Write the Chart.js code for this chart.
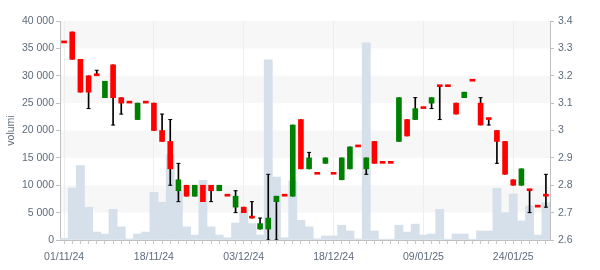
<!DOCTYPE html>
<html>
<head>
<meta charset="utf-8">
<script src="https://cdn.jsdelivr.net/npm/chart.js@4.4.1/dist/chart.umd.min.js"></script>
<style>
  html, body { margin: 0; padding: 0; background: #fff; }
  #box { width: 600px; height: 270px; position: relative; }
</style>
</head>
<body>
<div id="box"><canvas id="chart"></canvas></div>
<script>
// trading days
const dates = [
  "01/11/24", "04/11/24", "05/11/24", "06/11/24", "07/11/24", "08/11/24", "11/11/24", "12/11/24", "13/11/24", "14/11/24",
  "15/11/24", "18/11/24", "19/11/24", "20/11/24", "21/11/24", "22/11/24", "25/11/24", "26/11/24", "27/11/24", "28/11/24",
  "29/11/24", "02/12/24", "03/12/24", "04/12/24", "05/12/24", "06/12/24", "09/12/24", "10/12/24", "11/12/24", "12/12/24",
  "13/12/24", "16/12/24", "17/12/24", "18/12/24", "19/12/24", "20/12/24", "23/12/24", "27/12/24", "30/12/24", "02/01/25",
  "03/01/25", "06/01/25", "07/01/25", "08/01/25", "09/01/25", "10/01/25", "13/01/25", "14/01/25", "15/01/25", "16/01/25",
  "17/01/25", "20/01/25", "21/01/25", "22/01/25", "23/01/25", "24/01/25", "27/01/25", "28/01/25", "29/01/25", "30/01/25"
];

const openP = [
  3.32, 3.36, 3.26, 3.20, 3.20, 3.12, 3.24, 3.12, 3.10, 3.04,
  3.10, 3.10, 3.00, 2.96, 2.78, 2.80, 2.76, 2.80, 2.80, 2.78,
  2.76, 2.72, 2.72, 2.68, 2.64, 2.64, 2.74, 2.76, 2.76, 3.04,
  2.86, 2.84, 2.88, 2.84, 2.82, 2.86, 2.94, 2.86, 2.96, 2.88,
  2.88, 2.96, 3.04, 3.04, 3.08, 3.10, 3.16, 3.16, 3.10, 3.12,
  3.18, 3.10, 3.04, 3.00, 2.96, 2.82, 2.80, 2.78, 2.72, 2.76
];
const highP = [
  3.32, 3.36, 3.26, 3.20, 3.22, 3.18, 3.24, 3.12, 3.10, 3.10,
  3.10, 3.10, 3.06, 3.04, 2.88, 2.80, 2.80, 2.80, 2.80, 2.80,
  2.76, 2.78, 2.72, 2.74, 2.68, 2.84, 2.76, 2.76, 3.02, 3.04,
  2.92, 2.84, 2.90, 2.84, 2.90, 2.94, 2.94, 2.90, 2.96, 2.88,
  2.88, 3.12, 3.04, 3.12, 3.08, 3.12, 3.16, 3.16, 3.10, 3.14,
  3.18, 3.12, 3.04, 3.00, 2.96, 2.82, 2.86, 2.78, 2.72, 2.84
];
const lowP = [
  3.32, 3.26, 3.14, 3.08, 3.20, 3.12, 3.02, 3.06, 3.10, 3.04,
  3.10, 3.00, 2.96, 2.80, 2.74, 2.76, 2.76, 2.74, 2.74, 2.78,
  2.76, 2.70, 2.70, 2.68, 2.64, 2.60, 2.60, 2.76, 2.76, 2.86,
  2.86, 2.84, 2.88, 2.84, 2.82, 2.86, 2.94, 2.84, 2.88, 2.88,
  2.88, 2.96, 2.98, 3.04, 3.08, 3.08, 3.04, 3.16, 3.06, 3.12,
  3.18, 3.02, 3.02, 2.88, 2.84, 2.80, 2.80, 2.70, 2.72, 2.72
];
const closeP = [
  3.32, 3.26, 3.14, 3.14, 3.20, 3.18, 3.12, 3.10, 3.10, 3.10,
  3.10, 3.00, 2.96, 2.86, 2.82, 2.76, 2.80, 2.74, 2.78, 2.80,
  2.76, 2.76, 2.70, 2.68, 2.66, 2.68, 2.76, 2.76, 3.02, 2.86,
  2.90, 2.84, 2.90, 2.84, 2.90, 2.94, 2.94, 2.90, 2.88, 2.88,
  2.88, 3.12, 2.98, 3.08, 3.08, 3.12, 3.16, 3.16, 3.06, 3.14,
  3.18, 3.02, 3.04, 2.96, 2.84, 2.80, 2.86, 2.78, 2.72, 2.76
];
const volumes = [
  300, 9500, 13600, 6000, 1450, 1100, 5600, 2400, 200, 1100,
  1450, 8700, 6900, 15600, 9000, 2400, 900, 10900, 2400, 900,
  400, 3100, 5150, 3000, 900, 32900, 11500, 400, 10800, 3600,
  2400, 200, 750, 750, 2700, 1650, 200, 36000, 1650, 150,
  150, 2700, 1450, 2900, 900, 1100, 5600, 150, 1100, 1100,
  150, 1650, 1650, 9450, 5000, 8400, 3500, 6200, 900, 6800
];

const UP = "#008000";
const DOWN = "#ff0000";
const labelEvery = 11;

const bodies = openP.map((o, i) => [Math.min(o, closeP[i]), Math.max(o, closeP[i])]);
const bodyColors = openP.map((o, i) => closeP[i] > o ? UP : DOWN);
const wicks = highP.map((h, i) => h > lowP[i] ? [lowP[i], h] : null);
const capsHigh = highP.map((h, i) => h > bodies[i][1] ? h : null);
const capsLow = lowP.map((l, i) => l < bodies[i][0] ? l : null);

const spaced = v => String(v).replace(/\B(?=(\d{3})+(?!\d))/g, " ");

// alternating grey bands behind the plot
const bands = {
  id: "bands",
  beforeDraw(chart) {
    const { ctx, chartArea: a, scales } = chart;
    const y = scales.y2;
    ctx.save();
    ctx.fillStyle = "#f7f7f7";
    for (let v = 3.4; v > 2.65; v -= 0.2) {
      const top = y.getPixelForValue(v);
      const bot = y.getPixelForValue(v - 0.1);
      ctx.fillRect(a.left, top, a.right - a.left, bot - top);
    }
    ctx.restore();
  }
};

Chart.defaults.font.family = "Arial, 'Liberation Sans', sans-serif";
Chart.defaults.font.size = 10.5;
Chart.defaults.color = "#5e6b7b";

new Chart(document.getElementById("chart"), {
  type: "bar",
  data: {
    labels: dates,
    datasets: [
      {
        label: "body",
        data: bodies,
        yAxisID: "y2",
        backgroundColor: bodyColors,
        barThickness: 5,
        minBarLength: 2,
        grouped: false,
        order: 1
      },
      {
        type: "line",
        label: "capHigh",
        data: capsHigh,
        yAxisID: "y2",
        showLine: false,
        pointStyle: "line",
        pointRadius: 2,
        pointBorderWidth: 1,
        pointBorderColor: "#000",
        order: 2
      },
      {
        type: "line",
        label: "capLow",
        data: capsLow,
        yAxisID: "y2",
        showLine: false,
        pointStyle: "line",
        pointRadius: 2,
        pointBorderWidth: 1,
        pointBorderColor: "#000",
        order: 2
      },
      {
        label: "wick",
        data: wicks,
        yAxisID: "y2",
        backgroundColor: "#000",
        barThickness: 1,
        grouped: false,
        order: 3
      },
      {
        label: "volumi",
        data: volumes,
        yAxisID: "y",
        backgroundColor: "#d6e0ea",
        barPercentage: 1,
        categoryPercentage: 1,
        grouped: false,
        order: 4
      }
    ]
  },
  options: {
    responsive: true,
    maintainAspectRatio: false,
    animation: false,
    layout: { padding: { top: 21, left: 0, right: 0, bottom: 0 } },
    plugins: {
      legend: { display: false },
      tooltip: { enabled: false }
    },
    scales: {
      x: {
        offset: true,
        afterFit: s => { s.height = 30; },
        grid: {
          offset: false,
          tickLength: 4,
          color: c => c.index % labelEvery === 0 ? "#eeeeee" : "rgba(0,0,0,0)",
          tickColor: "#c8c8c8"
        },
        border: { color: "#c0c0c0" },
        ticks: {
          autoSkip: false,
          maxRotation: 0,
          padding: 7,
          callback: (v, i) => i % labelEvery === 0 ? dates[i] : ""
        }
      },
      y: {
        position: "left",
        min: 0,
        max: 40000,
        afterFit: s => { s.width = 60; },
        title: { display: true, text: "volumi", padding: { top: 5, bottom: 0 } },
        grid: { drawOnChartArea: false, tickLength: 4, tickColor: "#c0c0c0" },
        border: { color: "#c0c0c0" },
        ticks: { stepSize: 5000, padding: 2, callback: v => spaced(v) }
      },
      y2: {
        position: "right",
        min: 2.6,
        max: 3.4,
        afterFit: s => { s.width = 50; },
        grid: { drawOnChartArea: false, tickLength: 4, tickColor: "#c0c0c0" },
        border: { color: "#c0c0c0" },
        ticks: { stepSize: 0.1, padding: 4, callback: v => String(+v.toFixed(1)) }
      }
    }
  },
  plugins: [bands]
});
</script>
</body>
</html>
